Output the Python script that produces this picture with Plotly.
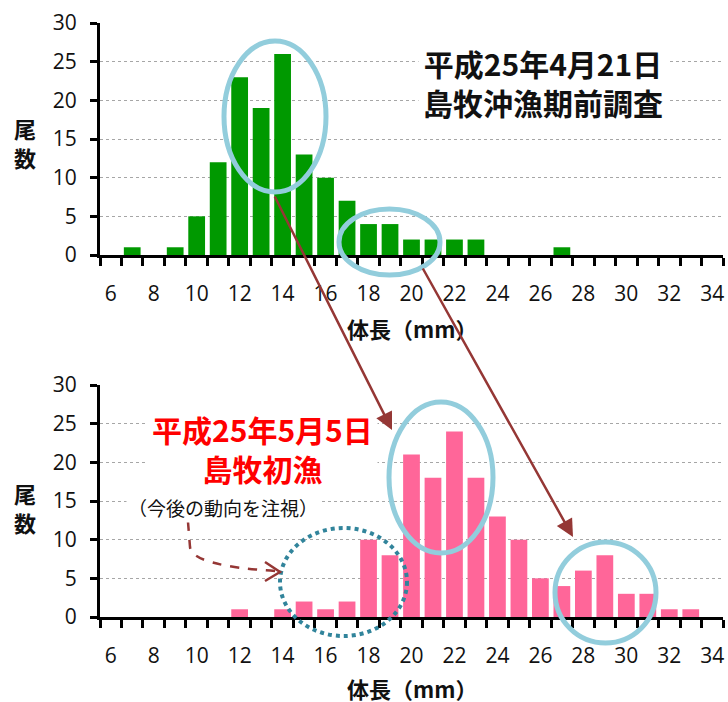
import plotly.graph_objects as go

# Body length classes (mm) and fish counts for the two surveys
lengths = list(range(6, 35))
counts_apr21 = [0, 1, 0, 1, 5, 12, 23, 19, 26, 13, 10, 7, 4, 4, 2, 2, 2, 2,
                0, 0, 0, 1, 0, 0, 0, 0, 0, 0, 0]
counts_may5 = [0, 0, 0, 0, 0, 0, 1, 0, 1, 2, 1, 2, 10, 8, 21, 18, 24, 18,
               13, 10, 5, 4, 6, 8, 3, 3, 1, 1, 0]
x_ticklabels = [str(v) for v in range(6, 35, 2)]
y_ticks = [0, 5, 10, 15, 20, 25, 30]

W, H = 728, 702
GREEN = "#009900"
PINK = "#FF6699"
RING = "#92CDDC"
RING_DOT = "#31849B"
ARROW = "#953735"
NUM_FONT = "Open Sans"
JP_FONT = "Noto Sans CJK JP"


def px(x):
    return x / W


def py(y):
    return 1 - y / H


fig = go.Figure()
fig.add_trace(go.Bar(x=lengths, y=counts_apr21, marker_color=GREEN,
                     marker_line_width=0, width=0.78, xaxis="x", yaxis="y"))
fig.add_trace(go.Bar(x=lengths, y=counts_may5, marker_color=PINK,
                     marker_line_width=0, width=0.78, xaxis="x2", yaxis="y2"))

x_common = dict(
    range=[5.5, 34.5], tickmode="array", tickvals=list(range(6, 35, 2)),
    ticktext=x_ticklabels, ticks="", showgrid=False, zeroline=False,
    showline=True, linecolor="black", linewidth=3,
    tickfont=dict(family=NUM_FONT, size=21, color="#111"),
    ticklabelstandoff=18,
    minor=dict(tickmode="array", tickvals=[v + 0.5 for v in range(5, 35)],
               ticks="outside", ticklen=8, tickwidth=3, tickcolor="black",
               showgrid=False),
    domain=[px(100), px(723)], fixedrange=True,
)
y_common = dict(
    range=[0, 30], tickmode="array", tickvals=y_ticks, ticks="outside",
    ticklen=7, tickwidth=3, tickcolor="black", showline=True,
    linecolor="black", linewidth=3, showgrid=True, gridcolor="#A6A6A6",
    gridwidth=1, griddash="dot", zeroline=False,
    tickfont=dict(family=NUM_FONT, size=21, color="#111"),
    ticklabelstandoff=9, fixedrange=True,
)

fig.update_layout(
    width=W, height=H, margin=dict(l=0, r=0, t=0, b=0, autoexpand=False),
    paper_bgcolor="white", plot_bgcolor="white", showlegend=False,
    xaxis=dict(**x_common, anchor="y"),
    yaxis=dict(**y_common, domain=[py(255), py(23)], anchor="x"),
    xaxis2=dict(**x_common, anchor="y2"),
    yaxis2=dict(**y_common, domain=[py(617), py(385)], anchor="x2"),
    bargap=0.2,
)


def label(x, y, text, size, color="#111", bold=True, bg=None, pad=1):
    fig.add_annotation(x=px(x), y=py(y), xref="paper", yref="paper",
                       xanchor="center", yanchor="middle", text=text,
                       showarrow=False,
                       font=dict(family=JP_FONT, size=size, color=color,
                                 weight="bold" if bold else "normal"),
                       bgcolor=bg, borderpad=pad)


# Titles and labels
label(543, 83, "平成25年4月21日<br>島牧沖漁期前調査", 30, bg="white", pad=4)
label(262, 448, "平成25年5月5日<br>島牧初漁", 30, color="#FF0000", bg="white", pad=4)
label(223, 507, "（今後の動向を注視）", 19, bold=False, bg="white", pad=1)
for cy in (142, 507):
    label(25, cy, "尾<br>数", 22)
for cy in (328, 688):
    label(412, cy, "体長（mm）", 22)

# Rings highlighting length groups
rings = [(224, 41, 326, 192), (339, 209, 440, 275),
         (389, 402, 493, 553), (555, 542, 656, 643)]
for x0, y0, x1, y1 in rings:
    fig.add_shape(type="circle", xref="paper", yref="paper",
                  x0=px(x0), x1=px(x1), y0=py(y1), y1=py(y0),
                  line=dict(color=RING, width=5), layer="above")
fig.add_shape(type="circle", xref="paper", yref="paper",
              x0=px(280), x1=px(407), y0=py(636), y1=py(528),
              line=dict(color=RING_DOT, width=4, dash="dot"), layer="above")

# Arrows tracing group growth between the surveys
for (tx, ty), (sx, sy) in [((392, 430), (274, 195)), ((573, 537), (422, 267))]:
    fig.add_annotation(x=px(tx), y=py(ty), xref="paper", yref="paper",
                       ax=sx - tx, ay=sy - ty, axref="pixel", ayref="pixel",
                       text="", showarrow=True, arrowhead=2, arrowsize=1.4,
                       arrowwidth=2.5, arrowcolor=ARROW, standoff=0)


def path_of(cmds):
    out = []
    for c, pts in cmds:
        out.append(c + " " + " ".join(f"{px(x):.5f},{py(y):.5f}" for x, y in pts))
    return " ".join(out)


fig.add_shape(type="path", xref="paper", yref="paper",
              path=path_of([("M", [(188, 522)]), ("L", [(190, 547)]),
                            ("Q", [(192, 566), (276, 571)])]),
              line=dict(color=ARROW, width=2.5, dash="dash"), layer="above")
fig.add_shape(type="path", xref="paper", yref="paper",
              path=path_of([("M", [(265, 562)]), ("L", [(280, 572)]),
                            ("L", [(265, 581)])]),
              line=dict(color=ARROW, width=2.5), layer="above")

fig.write_html("out.html")
